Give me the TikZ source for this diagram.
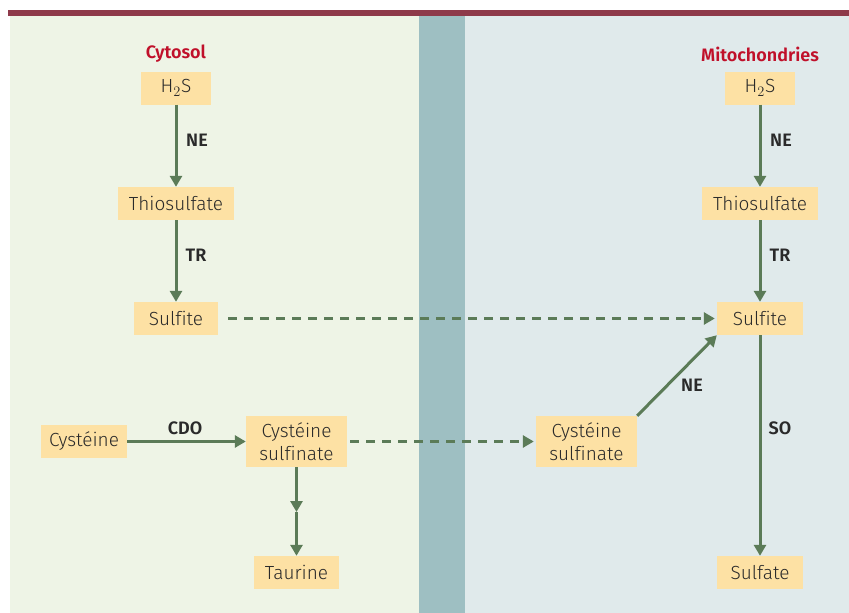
\documentclass[tikz,border=0pt]{standalone}
\usepackage{fontspec}
\setmainfont{Fira Sans Light}[BoldFont={Fira Sans SemiBold}, Ligatures=NoCommon]
\usetikzlibrary{arrows.meta}
\definecolor{panelL}{HTML}{EEF4E6}
\definecolor{panelR}{HTML}{E0EAEB}
\definecolor{bandc}{HTML}{9EBFC2}
\definecolor{topline}{HTML}{8E3A4A}
\definecolor{boxfill}{HTML}{FDE1A4}
\definecolor{arrowc}{HTML}{5B7B57}
\definecolor{titlered}{HTML}{C0102A}
\definecolor{txt}{HTML}{2A2A2A}
\tikzset{
  mol/.style={fill=boxfill, text=txt, font=\fontsize{19}{23}\selectfont, minimum height=33pt, inner xsep=6pt, inner ysep=0pt, align=center},
  enz/.style={text=txt, font=\fontsize{18}{20}\selectfont\bfseries},
  ttl/.style={text=titlered, font=\fontsize{18}{20}\selectfont\bfseries},
  conv/.style={draw=arrowc, line width=3pt, -{Triangle[length=11pt,width=12pt]}, arrowc},
  transp/.style={conv, dash pattern=on 9pt off 7pt},
}
\begin{document}
\begin{tikzpicture}[x=1pt,y=-1pt]
\useasboundingbox (0,0) rectangle (849,613);
% backgrounds
\fill[white] (0,0) rectangle (849,613);
\fill[panelL] (10,15) rectangle (419,613);
\fill[bandc] (419,15) rectangle (465,613);
\fill[panelR] (465,15) rectangle (849,613);
\fill[topline] (8,10) rectangle (849,15.5);
% titles
\node[ttl] (tc) at (176,54) {Cytosol};
\node[ttl] (tm) at (760,54) {Mitochondries};
% cytosol nodes
\node[mol, minimum width=70pt] (h2sL) at (176,88) {H$_2$S};
\node[mol, minimum width=116pt] (thioL) at (176,203.5) {Thiosulfate};
\node[mol, minimum width=84pt] (sulfL) at (176,318.5) {Sulfite};
\node[mol, minimum width=86pt] (cys) at (84,441.5) {Cystéine};
\node[mol, minimum width=101pt, minimum height=51pt] (csL) at (296.5,441.5) {Cystéine\\sulfinate};
\node[mol, minimum width=85pt] (taur) at (296.5,572.5) {Taurine};
% mitochondria nodes
\node[mol, minimum width=70pt] (h2sR) at (760,88) {H$_2$S};
\node[mol, minimum width=116pt] (thioR) at (760,203.5) {Thiosulfate};
\node[mol, minimum width=86pt] (sulfR) at (760,318.5) {Sulfite};
\node[mol, minimum width=101pt, minimum height=51pt] (csR) at (586.5,441.5) {Cystéine\\sulfinate};
\node[mol, minimum width=86pt] (sulfa) at (760,572.5) {Sulfate};
% arrows
\draw[conv] (h2sL) -- (thioL);
\draw[conv] (thioL) -- (sulfL);
\draw[conv] (cys) -- (csL);
\coordinate (tmid) at (296.5,512);
\draw[conv] (csL) -- (tmid);
\draw[conv] (tmid) -- (taur);
\draw[conv] (h2sR) -- (thioR);
\draw[conv] (thioR) -- (sulfR);
\draw[conv] (sulfR) -- (sulfa);
\draw[conv] (csR.north east) -- (sulfR.south west);
\draw[transp, shorten <=10pt, shorten >=2pt] (sulfL.east) -- (sulfR.west);
\draw[transp, shorten <=3pt, shorten >=2pt] (csL.east) -- (csR.west);
% enzyme labels
\node[enz] (e1) at (197,140) {NE};
\node[enz] (e2) at (196,255) {TR};
\node[enz] (e3) at (185,428) {CDO};
\node[enz] (e4) at (781,140) {NE};
\node[enz] (e5) at (780,255) {TR};
\node[enz] (e6) at (692,385) {NE};
\node[enz] (e7) at (780,428) {SO};
\end{tikzpicture}
\end{document}
